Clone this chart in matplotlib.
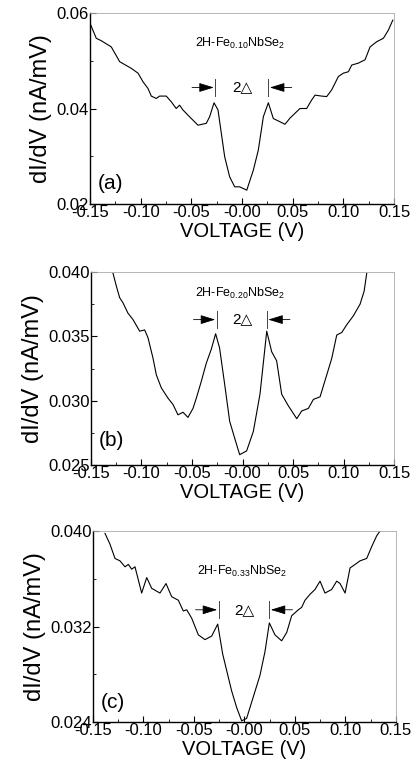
import numpy as np
import matplotlib
matplotlib.use("Agg")
import matplotlib.pyplot as plt

plt.rcParams['font.family'] = ['Liberation Sans', 'DejaVu Sans']
plt.rcParams['mathtext.default'] = 'regular'

# panel (a) 2H-Fe0.10NbSe2
va = [-0.1493, -0.1438, -0.1389, -0.129, -0.1207, -0.1092, -0.1026, -0.0977, -0.0928, -0.0895,
      -0.0846, -0.0813, -0.0747, -0.0698, -0.0649, -0.0616, -0.0583, -0.0533, -0.050, -0.0434,
      -0.0352, -0.0319, -0.0276, -0.0237, -0.0204, -0.0171, -0.0122, -0.0072, -0.0023, 0.0047,
      0.0112, 0.0161, 0.0211, 0.026, 0.0309, 0.0358, 0.0424, 0.0474, 0.0523, 0.0572,
      0.0638, 0.0688, 0.0721, 0.0786, 0.0836, 0.0885, 0.0951, 0.100, 0.105, 0.1083,
      0.1148, 0.1214, 0.1264, 0.133, 0.1395, 0.1444, 0.1488]
ga = [0.0575, 0.0547, 0.0542, 0.0529, 0.0498, 0.0484, 0.0474, 0.0456, 0.0442, 0.0426,
      0.0421, 0.0426, 0.0426, 0.0414, 0.0400, 0.0407, 0.0397, 0.0386, 0.0379, 0.0365,
      0.0369, 0.0383, 0.0412, 0.0397, 0.0348, 0.0299, 0.0257, 0.0236, 0.0236, 0.0229,
      0.0271, 0.0313, 0.0383, 0.0412, 0.0379, 0.0374, 0.0367, 0.0380, 0.0390, 0.0400,
      0.0400, 0.0418, 0.0428, 0.0426, 0.0425, 0.0439, 0.0467, 0.0474, 0.0477, 0.0491,
      0.0495, 0.0502, 0.0529, 0.0540, 0.0547, 0.0564, 0.0585]

# panel (b) 2H-Fe0.20NbSe2
vb = [-0.1282, -0.1249, -0.1216, -0.1183, -0.1134, -0.1084, -0.1018, -0.0969, -0.0936, -0.0886,
      -0.0853, -0.0804, -0.0738, -0.0688, -0.0639, -0.0589, -0.054, -0.049, -0.0457, -0.0408,
      -0.0359, -0.0309, -0.0266, -0.0227, -0.0177, -0.0127, -0.0078, -0.0028, 0.0041, 0.0107,
      0.0173, 0.024, 0.0289, 0.0338, 0.0388, 0.0454, 0.0537, 0.0586, 0.0652, 0.0702,
      0.0768, 0.0834, 0.0884, 0.0933, 0.0983, 0.1032, 0.1098, 0.1164, 0.1204, 0.123]
gb = [0.0399, 0.0389, 0.0380, 0.0376, 0.0368, 0.0363, 0.0354, 0.0355, 0.0349, 0.0333,
      0.0320, 0.0310, 0.0302, 0.0297, 0.0289, 0.0291, 0.0287, 0.0294, 0.0302, 0.0315,
      0.0329, 0.0340, 0.0352, 0.0341, 0.0313, 0.0284, 0.0271, 0.0258, 0.0261, 0.0276,
      0.0305, 0.0354, 0.0338, 0.0331, 0.0305, 0.0296, 0.0286, 0.0292, 0.0294, 0.0301,
      0.0303, 0.0320, 0.0333, 0.0351, 0.0353, 0.0359, 0.0366, 0.0375, 0.0385, 0.0399]

# panel (c) 2H-Fe0.33NbSe2
vc = [-0.1381, -0.1332, -0.1282, -0.1233, -0.1183, -0.115, -0.1117, -0.1084, -0.1018, -0.0968,
      -0.0919, -0.0837, -0.0777, -0.0721, -0.0655, -0.0606, -0.0572, -0.0523, -0.0457, -0.0391,
      -0.0325, -0.0265, -0.0216, -0.0176, -0.0127, -0.0077, -0.0028, 0.0021, 0.0087, 0.0153,
      0.0203, 0.0246, 0.0302, 0.0368, 0.0418, 0.0467, 0.0533, 0.0566, 0.0599, 0.0649,
      0.0698, 0.0748, 0.0797, 0.0863, 0.0913, 0.0946, 0.0996, 0.1045, 0.1095, 0.1144,
      0.121, 0.126, 0.1309, 0.1342]
gc = [0.0398, 0.0389, 0.0377, 0.0375, 0.0370, 0.0372, 0.0368, 0.0370, 0.0348, 0.0361,
      0.0352, 0.0348, 0.0356, 0.0345, 0.0342, 0.0333, 0.0334, 0.0327, 0.0313, 0.0309,
      0.0312, 0.0322, 0.0297, 0.0283, 0.0266, 0.0252, 0.0241, 0.0243, 0.0261, 0.0279,
      0.0299, 0.0323, 0.0313, 0.0308, 0.0315, 0.0329, 0.0334, 0.0336, 0.0342, 0.0347,
      0.0351, 0.0358, 0.0348, 0.0351, 0.0358, 0.0356, 0.0348, 0.0369, 0.0372, 0.0375,
      0.0377, 0.0387, 0.0396, 0.0400]

x_ticks = [-0.15, -0.10, -0.05, 0.0, 0.05, 0.10, 0.15]
x_labels = ['-0.15', '-0.10', '-0.05', '-0.00', '0.05', '0.10', '0.15']

panels = [
    dict(v=va, g=ga, pos=[0.2174, 0.7347, 0.7343, 0.2484], ylim=(0.02, 0.06),
         yt=[0.02, 0.04, 0.06], ylab=['0.02', '0.04', '0.06'], ym=[0.03, 0.05],
         name=r'2H-Fe$_{0.10}$NbSe$_2$', ny=0.0536, ay=0.0444, bx=(-0.0263, 0.026),
         tag='(a)', tagy=0.0243),
    dict(v=vb, g=gb, pos=[0.2198, 0.3953, 0.7319, 0.2510], ylim=(0.025, 0.040),
         yt=[0.025, 0.030, 0.035, 0.040], ylab=['0.025', '0.030', '0.035', '0.040'],
         ym=[0.0275, 0.0325, 0.0375],
         name=r'2H-Fe$_{0.20}$NbSe$_2$', ny=0.0383, ay=0.0363, bx=(-0.0255, 0.024),
         tag='(b)', tagy=0.0269),
    dict(v=vc, g=gc, pos=[0.2246, 0.0611, 0.7319, 0.2484], ylim=(0.024, 0.040),
         yt=[0.024, 0.032, 0.040], ylab=['0.024', '0.032', '0.040'], ym=[0.028, 0.036],
         name=r'2H-Fe$_{0.33}$NbSe$_2$', ny=0.0366, ay=0.0334, bx=(-0.0255, 0.0245),
         tag='(c)', tagy=0.0256),
]

fig = plt.figure(figsize=(4.14, 7.69), dpi=100)

for p in panels:
    ax = fig.add_axes(p['pos'])
    ax.plot(p['v'], p['g'], color='black', lw=0.8)
    ax.set_xlim(-0.15, 0.15)
    ax.set_ylim(*p['ylim'])
    ax.set_xticks(x_ticks)
    ax.set_xticklabels(x_labels)
    ax.set_xticks(np.arange(-0.125, 0.15, 0.05), minor=True)
    ax.set_yticks(p['yt'])
    ax.set_yticklabels(p['ylab'])
    ax.set_yticks(p['ym'], minor=True)
    ax.tick_params(which='both', direction='in', labelsize=12, pad=1)
    ax.tick_params(which='major', length=4, width=0.8)
    ax.tick_params(which='minor', length=2.5, width=0.6)
    for s in ['top', 'right']:
        ax.spines[s].set_color('#aaaaaa')
        ax.spines[s].set_linewidth(0.6)
    for s in ['left', 'bottom']:
        ax.spines[s].set_linewidth(1.0)
    ax.set_xlabel('VOLTAGE (V)', fontsize=14.5, labelpad=1)
    ax.set_ylabel('dI/dV (nA/mV)', fontsize=17, labelpad=3)

    yr = p['ylim'][1] - p['ylim'][0]
    ax.text(-0.002, p['ny'], p['name'], fontsize=9, ha='center', va='center')
    ax.text(0.0, p['ay'], '2\u25b3', fontsize=11, ha='center', va='center',
            family=['Liberation Sans', 'DejaVu Sans'])
    lx, rx = p['bx']
    for bx, sx in [(lx, lx - 0.023), (rx, rx + 0.023)]:
        ax.plot([bx, bx], [p['ay'] - 0.045 * yr, p['ay'] + 0.045 * yr], color='#444444', lw=0.7)
        ax.annotate('', xy=(bx - 0.0015 if sx < bx else bx + 0.0015, p['ay']),
                    xytext=(sx, p['ay']),
                    arrowprops=dict(arrowstyle='-|>,head_length=0.65,head_width=0.2',
                                    color='black', lw=0.6,
                                    mutation_scale=14, shrinkA=0, shrinkB=0))
    ax.text(-0.142, p['tagy'], p['tag'], fontsize=15, ha='left', va='center')

fig.savefig('out.png', dpi=100)
